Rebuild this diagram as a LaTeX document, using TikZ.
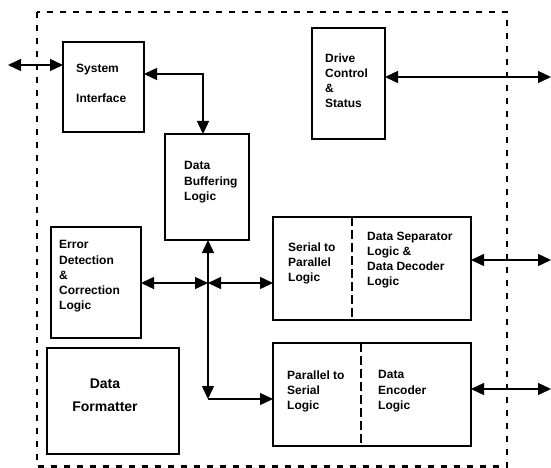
\documentclass[tikz,border=0pt]{standalone}
\usepackage{fontspec}
\setmainfont{Liberation Sans}
\usetikzlibrary{arrows.meta}
\tikzset{
  box/.style={draw, line width=1.6pt, inner sep=0pt, outer sep=0pt, anchor=north west},
  label12/.style={anchor=north west, inner sep=0pt, align=left,
    font=\bfseries\fontsize{12}{15.2}\selectfont},
  tip/.style={Triangle[length=13pt,width=12pt]},
  link/.style={line width=1.4pt, {Triangle[length=13pt,width=12pt]}-{Triangle[length=13pt,width=12pt]}},
  onelink/.style={line width=1.4pt, -{Triangle[length=13pt,width=12pt]}},
  frame/.style={line width=2.8pt, dash pattern=on 6pt off 7pt},
  divider/.style={line width=2.2pt, dash pattern=on 9pt off 4pt}
}
\begin{document}
\begin{tikzpicture}[x=1pt,y=-1pt]
\useasboundingbox (0,0) rectangle (551,468);

% dashed enclosure
\draw[frame] (37,12) rectangle (507,466.5);

% blocks
\node[box, minimum width=81pt, minimum height=90pt] (sys) at (63,42) {};
\node[box, minimum width=84pt, minimum height=106pt] (buf) at (165,134) {};
\node[box, minimum width=73pt, minimum height=111pt] (drv) at (312,28) {};
\node[box, minimum width=90pt, minimum height=111pt] (err) at (51,227) {};
\node[box, minimum width=132pt, minimum height=106pt] (fmt) at (47,348) {};
\node[box, minimum width=198pt, minimum height=103pt] (s2p) at (273,217) {};
\node[box, minimum width=198pt, minimum height=103pt] (p2s) at (273,343) {};

% dashed split lines inside the two converter blocks
\draw[divider] (s2p.north -| 352,0) -- (s2p.south -| 352,0);
\draw[divider] (p2s.north -| 361,0) -- (p2s.south -| 361,0);

% block texts
\node[label12, font=\bfseries\fontsize{12}{30}\selectfont] (tsys) at (76,63.5) {System\\Interface};
\node[label12] (tbuf) at (184,161.5) {Data\\Buffering\\Logic};
\node[label12] (tdrv) at (325,53.5) {Drive\\Control\\\&\\Status};
\node[label12] (terr) at (59,240.5) {Error\\Detection\\\&\\Correction\\Logic};
\node[label12] (ts2pa) at (288,242.5) {Serial to\\Parallel\\Logic};
\node[label12] (ts2pb) at (367,231.5) {Data Separator\\Logic \&\\Data Decoder\\Logic};
\node[label12] (tp2sa) at (287,370.5) {Parallel to\\Serial\\Logic};
\node[label12] (tp2sb) at (378,370.5) {Data\\Encoder\\Logic};
\node[anchor=north, inner sep=0pt, align=center,
      font=\bfseries\fontsize{14}{23}\selectfont] (tfmt) at (105,379) {Data\\Formatter};

% connection points
\coordinate (sysext) at (8,65);
\coordinate (sb) at (203,74);
\coordinate (drvext) at (551,77);
\coordinate (decext) at (551,260);
\coordinate (encext) at (551,389);
\coordinate (j) at (208,283);
\coordinate (c) at (208,399);

% connectors
\draw[link] (sysext) -- (sys.west |- sysext);
\draw[link] (sys.east |- sb) -| (buf.north -| sb);
\draw[link] (drv.east |- drvext) -- (drvext);
\draw[link] (buf.south -| j) -- (c);
\draw[link] (err.east |- j) -- (j);
\draw[link] (j) -- (s2p.west |- j);
\draw[onelink] (c) -- (p2s.west |- c);
\draw[link] (s2p.east |- decext) -- (decext);
\draw[link] (p2s.east |- encext) -- (encext);
\end{tikzpicture}
\end{document}
